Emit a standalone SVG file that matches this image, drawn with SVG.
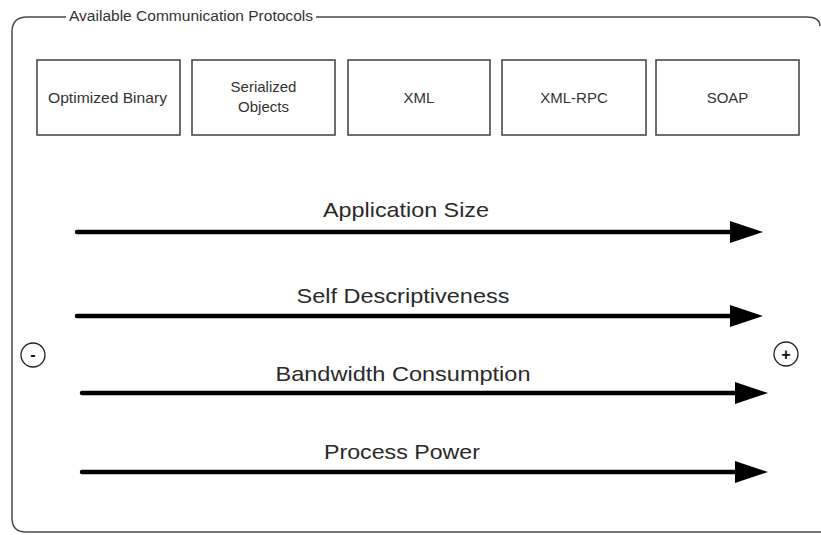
<svg xmlns="http://www.w3.org/2000/svg" width="821" height="535" viewBox="0 0 821 535">
<defs>
<style>
.frame{fill:none;stroke:#4a4a4a;stroke-width:1.5}
.box{fill:#fff;stroke:#4a4a4a;stroke-width:1.6}
.bt{font-family:"Liberation Sans",Arial,sans-serif;font-size:15px;fill:#333;text-anchor:middle}
.title{font-family:"Liberation Sans",Arial,sans-serif;font-size:14px;fill:#333}
.lbl{font-family:"Liberation Sans",Arial,sans-serif;font-size:21px;fill:#2a2a2a;text-anchor:middle}
.arr{stroke:#000;stroke-width:4.5;stroke-linecap:round;fill:none}
.circ{fill:#fff;stroke:#222;stroke-width:1.3}
.sym{font-family:"Liberation Sans",Arial,sans-serif;font-size:16px;font-weight:bold;fill:#111;text-anchor:middle}
</style>
<marker id="head" markerUnits="userSpaceOnUse" markerWidth="36" markerHeight="24" refX="3" refY="12" orient="auto">
<path d="M0,1 L33,12 L0,23 Z" fill="#000"/>
</marker>
</defs>
<rect width="821" height="535" fill="#fff"/>
<g id="frame">
<path class="frame" d="M66,17 L27,17 Q12,17 12,32 L12,518 Q12,532 26,532 L823,532 M316,17 L806,17 Q820,17 820,26"/>
<text class="title" x="69" y="21" textLength="244" lengthAdjust="spacingAndGlyphs">Available Communication Protocols</text>
</g>
<g id="node-optimized-binary">
<rect class="box" x="37" y="60" width="143" height="75"/>
<text class="bt" x="107.5" y="103" textLength="119" lengthAdjust="spacingAndGlyphs">Optimized Binary</text>
</g>
<g id="node-serialized-objects">
<rect class="box" x="192" y="60" width="143" height="75"/>
<text class="bt" x="263.5" y="92">Serialized</text>
<text class="bt" x="263.5" y="112">Objects</text>
</g>
<g id="node-xml">
<rect class="box" x="348" y="60" width="142" height="75"/>
<text class="bt" x="419" y="103">XML</text>
</g>
<g id="node-xml-rpc">
<rect class="box" x="502" y="60" width="144" height="75"/>
<text class="bt" x="574" y="103">XML-RPC</text>
</g>
<g id="node-soap">
<rect class="box" x="656" y="60" width="143" height="75"/>
<text class="bt" x="727.5" y="103">SOAP</text>
</g>
<g id="connectors">
<line class="arr" x1="77" y1="232" x2="733" y2="232" marker-end="url(#head)"/>
<line class="arr" x1="77" y1="316" x2="733" y2="316" marker-end="url(#head)"/>
<line class="arr" x1="82" y1="393" x2="738" y2="393" marker-end="url(#head)"/>
<line class="arr" x1="82" y1="472" x2="738" y2="472" marker-end="url(#head)"/>
</g>
<g id="labels">
<text class="lbl" x="406" y="217" textLength="166" lengthAdjust="spacingAndGlyphs">Application Size</text>
<text class="lbl" x="403" y="303" textLength="213" lengthAdjust="spacingAndGlyphs">Self Descriptiveness</text>
<text class="lbl" x="403" y="381" textLength="255" lengthAdjust="spacingAndGlyphs">Bandwidth Consumption</text>
<text class="lbl" x="402" y="459" textLength="156" lengthAdjust="spacingAndGlyphs">Process Power</text>
</g>
<g id="minus">
<circle class="circ" cx="33" cy="355" r="12"/>
<text class="sym" x="33" y="360">-</text>
</g>
<g id="plus">
<circle class="circ" cx="786" cy="354" r="12"/>
<text class="sym" x="786" y="359.5">+</text>
</g>
</svg>
